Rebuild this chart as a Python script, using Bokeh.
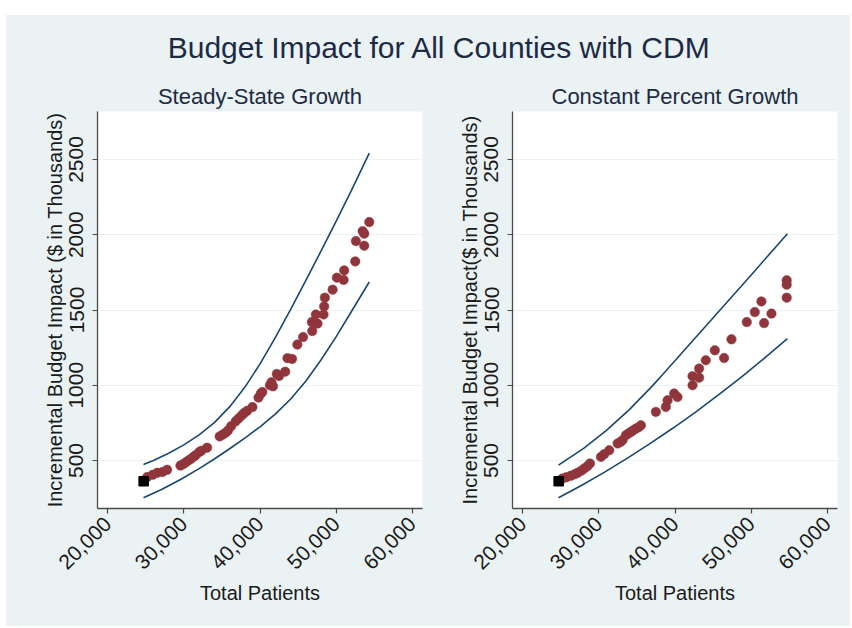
import math
from bokeh.plotting import figure
from bokeh.models import Range1d, FixedTicker, Spacer
from bokeh.layouts import column, row
from bokeh.embed import file_html
from bokeh.resources import INLINE
from bokeh.core.properties import value

# ---------------- data ----------------
TITLE = "Budget Impact for All Counties with CDM"
SUBTITLES = ["Steady-State Growth", "Constant Percent Growth"]
YLABELS = ["Incremental Budget Impact ($ in Thousands)", "Incremental Budget Impact($ in Thousands)"]
XLABEL = "Total Patients"

XTICKS = [20000, 30000, 40000, 50000, 60000]
XTICK_LABELS = ["20,000", "30,000", "40,000", "50,000", "60,000"]
YTICKS = [500, 1000, 1500, 2000, 2500]

# baseline point (black square)
BASE_X = [24720]
BASE_Y = [362]

# Steady-State Growth: counties
ss_x = [25180, 25900, 26500, 27200, 27800, 29550, 29900, 30250, 30600, 30900,
        31300, 31550, 32000, 32300, 33050, 34700, 35100, 35500, 35800, 36200,
        36800, 37200, 37600, 37900, 38300, 39000, 39800, 40100, 40300, 41300,
        41500, 41700, 42200, 42500, 43300, 43600, 44200, 44900, 45650, 46850,
        46800, 47330, 47550, 48340, 48420, 48510, 49530, 50090, 50970, 51050,
        52500, 52590, 53470, 53680, 53680, 54340]
ss_y = [390, 405, 418, 424, 438, 466, 475, 488, 500, 510,
        525, 535, 555, 565, 585, 660, 672, 685, 700, 728,
        760, 780, 800, 815, 830, 855, 918, 945, 955, 1000,
        1020, 993, 1075, 1062, 1090, 1180, 1175, 1270, 1320, 1360,
        1420, 1470, 1410, 1470, 1524, 1582, 1635, 1715, 1700, 1763,
        1823, 1958, 2024, 2007, 1927, 2084]

# Steady-State Growth: upper / lower band
ss_up_x = [24700, 26000, 28000, 30000, 32000, 34000, 36000, 38000, 40000, 42000,
           44000, 46000, 48000, 50000, 52000, 54340]
ss_up_y = [473, 500, 548, 604, 670, 752, 856, 986, 1142, 1317,
           1503, 1695, 1891, 2091, 2295, 2542]
ss_lo_x = [24700, 27000, 29566, 32000, 34000, 36000, 38000, 40000, 42000, 44000,
           46000, 48000, 50000, 52000, 54340]
ss_lo_y = [252, 306, 374, 446, 510, 578, 649, 724, 808, 907,
           1027, 1168, 1323, 1490, 1686]

# Constant Percent Growth: counties
cp_x = [25200, 25700, 26300, 26800, 27200, 27700, 28100, 28500, 28830, 30270,
        30700, 31360, 32460, 32800, 33110, 33550, 33900, 34200, 34500, 34860,
        35200, 35520, 37480, 38790, 39020, 39880, 40320, 42300, 42300, 43160,
        43160, 44040, 45220, 46440, 47410, 49420, 50470, 51340, 51690, 52660,
        54660, 54660, 54660]
cp_y = [380, 388, 398, 408, 418, 432, 447, 462, 480, 524,
        542, 568, 613, 622, 635, 668, 680, 690, 700, 712,
        720, 734, 823, 856, 900, 945, 922, 1000, 1060, 1111,
        1050, 1166, 1232, 1181, 1305, 1420, 1486, 1557, 1413, 1476,
        1697, 1668, 1582]

cp_up_x = [24700, 28000, 31000, 34000, 37000, 38500, 42000, 46000, 50000, 54754]
cp_up_y = [469, 580, 700, 838, 994, 1078, 1277, 1505, 1733, 2007]
cp_lo_x = [24700, 27700, 30700, 33700, 36700, 39700, 42700, 45700, 48700, 51700, 54754]
cp_lo_y = [252, 334, 421, 514, 612, 714, 822, 936, 1054, 1178, 1310]

# ---------------- style ----------------
BG = "#EAF2F3"
NAVY = "#1A476F"
MAROON = "#90353B"
AXIS_C = "#4a4a4a"
TEXT_C = "#1a1a1a"
TITLE_C = "#1c2a44"
FONT = "Liberation Sans"

title_fig = figure(width=844, height=96, x_range=Range1d(6, 850), y_range=Range1d(111, 15),
                   output_backend="svg", toolbar_location=None, min_border=0,
                   border_fill_color=BG, background_fill_color=BG, outline_line_color=None)
title_fig.axis.visible = False
title_fig.grid.visible = False
title_fig.text(x=[439], y=[46.5], text=[TITLE], text_align="center", text_baseline="middle",
               text_font=value(FONT), text_font_size="30px", text_color=TITLE_C)
title_fig.text(x=[259.5, 674.5], y=[96, 96], text=SUBTITLES, text_align="center",
               text_baseline="middle", text_font=value(FONT), text_font_size="22px",
               text_color=TITLE_C)


def panel(width, ml, mr, ylabel, px, py, ux, uy, lx, ly):
    p = figure(width=width, height=515, x_range=Range1d(18660, 61330), y_range=Range1d(181, 2819),
               output_backend="svg", toolbar_location=None,
               min_border_left=ml, min_border_right=mr, min_border_top=0, min_border_bottom=118,
               border_fill_color=BG, background_fill_color="white", outline_line_color=None)
    p.xgrid.visible = False
    p.ygrid.grid_line_color = BG
    p.ygrid.grid_line_width = 1.2
    p.ygrid.ticker = FixedTicker(ticks=YTICKS)

    p.xaxis.ticker = FixedTicker(ticks=XTICKS)
    p.xaxis.major_label_overrides = {t: l for t, l in zip(XTICKS, XTICK_LABELS)}
    p.xaxis.major_label_orientation = math.pi / 4
    p.yaxis.ticker = FixedTicker(ticks=YTICKS)
    p.yaxis.major_label_orientation = "vertical"

    for ax in (p.xaxis, p.yaxis):
        ax.axis_line_color = AXIS_C
        ax.axis_line_width = 1.3
        ax.major_tick_line_color = AXIS_C
        ax.major_tick_line_width = 1.2
        ax.major_tick_in = 0
        ax.major_tick_out = 5
        ax.minor_tick_line_color = None
        ax.major_label_text_font = FONT
        ax.major_label_text_font_size = "21px"
        ax.major_label_text_color = TEXT_C
        ax.axis_label_text_font = FONT
        ax.axis_label_text_font_size = "20px"
        ax.axis_label_text_font_style = "normal"
        ax.axis_label_text_color = TEXT_C
    p.xaxis.axis_label = XLABEL
    p.yaxis.axis_label = ylabel
    p.xaxis.major_label_standoff = 7
    p.yaxis.major_label_standoff = 9
    p.xaxis.axis_label_standoff = 3
    p.yaxis.axis_label_standoff = 1

    p.line(ux, uy, line_color=NAVY, line_width=1.6)
    p.line(lx, ly, line_color=NAVY, line_width=1.6)
    p.scatter(px, py, size=9.5, fill_color=MAROON, line_color=MAROON, line_width=0.5)
    p.scatter(BASE_X, BASE_Y, marker="square", size=9.5, fill_color="black", line_color="black")
    return p


left = panel(424, 91, 8, YLABELS[0], ss_x, ss_y, ss_up_x, ss_up_y, ss_lo_x, ss_lo_y)
right = panel(420, 82, 13, YLABELS[1], cp_x, cp_y, cp_up_x, cp_up_y, cp_lo_x, cp_lo_y)

panels = row(left, right, styles={"background-color": BG})
content = column(title_fig, panels, styles={"background-color": BG})
layout = column(Spacer(width=850, height=15), row(Spacer(width=6, height=611), content))
open("out.html", "w").write(file_html(layout, INLINE))
